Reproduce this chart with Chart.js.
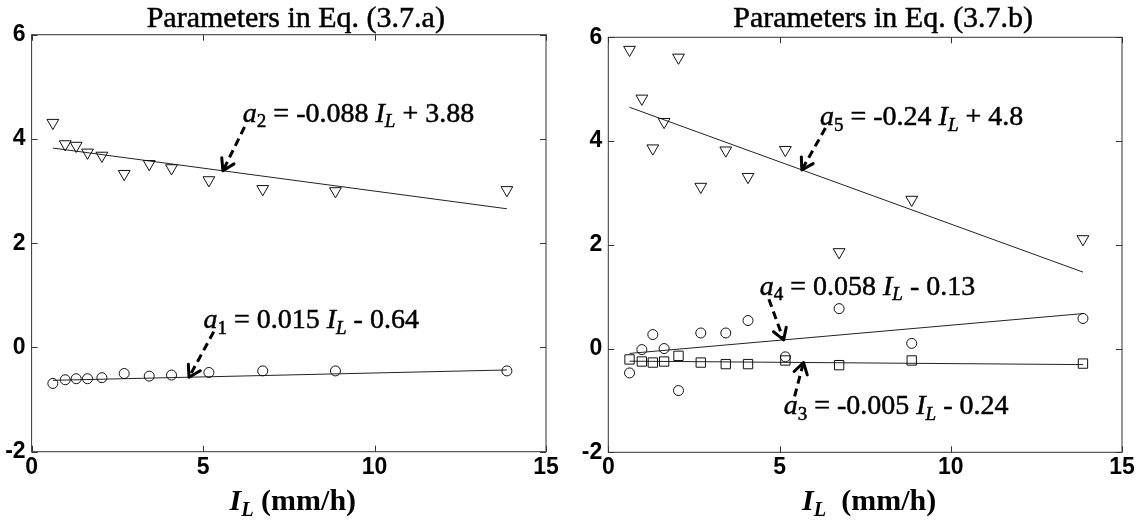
<!DOCTYPE html>
<html lang="en">
<head>
<meta charset="UTF-8" />
<title>Parameters vs rainfall intensity</title>
<script src="https://cdn.jsdelivr.net/npm/chart.js"></script>
<style>
  body { margin: 0; background: #fff; }
  .panel { position: absolute; top: 0; height: 523px; }
  #panelA { left: 0; width: 575px; }
  #panelB { left: 575px; width: 566px; }
</style>
</head>
<body>
<div class="panel" id="panelA"><canvas id="chartA"></canvas></div>
<div class="panel" id="panelB"><canvas id="chartB"></canvas></div>
<script>
// rainfall intensity I_L (mm/h) of each event
const intensity = [0.62, 0.98, 1.30, 1.63, 2.05, 2.70, 3.43, 4.08, 5.17, 6.74, 8.86, 13.86];

// fitted parameters per event
const a1 = [-0.69, -0.62, -0.60, -0.60, -0.58, -0.50, -0.55, -0.53, -0.48, -0.45, -0.45, -0.45];
const a2 = [4.31, 3.90, 3.87, 3.74, 3.68, 3.33, 3.52, 3.44, 3.21, 3.04, 3.00, 3.02];
const a3 = [-0.21, -0.25, -0.27, -0.25, -0.14, -0.27, -0.30, -0.30, -0.23, -0.32, -0.23, -0.29];
const a4 = [-0.47, -0.02, 0.27, 0.00, -0.81, 0.30, 0.30, 0.54, -0.16, 0.77, 0.10, 0.58];
const a5 = [5.76, 4.82, 3.86, 4.37, 5.61, 3.12, 3.82, 3.31, 3.83, 1.86, 2.87, 2.11];

// regression lines: [slope, intercept]
const fit1 = [0.015, -0.64];
const fit2 = [-0.088, 3.88];
const fit3 = [-0.005, -0.24];
const fit4 = [0.058, -0.13];
const fit5 = [-0.24, 4.8];

const xTicks = [0, 5, 10, 15];
const yTicks = [-2, 0, 2, 4, 6];

const SERIF = '"Liberation Serif", "Times New Roman", serif';
const SANS = '"Liberation Sans", Arial, sans-serif';

function points(ys) {
  return intensity.map((x, i) => ({ x: x, y: ys[i] }));
}

function fitLine(f) {
  const x0 = intensity[0], x1 = intensity[intensity.length - 1];
  return {
    type: 'line',
    data: [{ x: x0, y: f[0] * x0 + f[1] }, { x: x1, y: f[0] * x1 + f[1] }],
    borderColor: '#222',
    borderWidth: 1,
    pointRadius: 0,
    showLine: true,
    fill: false
  };
}

function markers(ys, style, radius, rotation) {
  return {
    data: points(ys),
    showLine: false,
    pointStyle: style,
    pointRadius: radius,
    pointRotation: rotation || 0,
    borderColor: '#111',
    backgroundColor: 'rgba(0,0,0,0)',
    pointBorderWidth: 1
  };
}

// text made of pieces, e.g. italic symbols and subscripts
function richWidth(ctx, parts, size) {
  let w = 0;
  parts.forEach(p => {
    const s = p.sub ? size * 0.68 : size;
    ctx.font = (p.it ? 'italic ' : '') + (p.b ? 'bold ' : '') + s + 'px ' + SERIF;
    w += ctx.measureText(p.t).width;
  });
  return w;
}

function drawRich(ctx, parts, x, y, size) {
  let cx = x;
  ctx.textBaseline = 'alphabetic';
  ctx.textAlign = 'left';
  ctx.lineWidth = 0.5;
  ctx.strokeStyle = '#000';
  parts.forEach(p => {
    const s = p.sub ? size * 0.68 : size;
    const dy = p.sub ? size * 0.2 : 0;
    ctx.font = (p.it ? 'italic ' : '') + (p.b ? 'bold ' : '') + s + 'px ' + SERIF;
    ctx.fillText(p.t, cx, y + dy);
    if (!p.b) ctx.strokeText(p.t, cx, y + dy);
    cx += ctx.measureText(p.t).width;
  });
}

function eqParts(sym, slope, rest) {
  return [
    { t: 'a', it: true }, { t: sym, sub: true },
    { t: ' = ' + slope + ' ' },
    { t: 'I', it: true }, { t: 'L', it: true, sub: true },
    { t: rest }
  ];
}

function arrow(ctx, x0, y0, x1, y1) {
  const ang = Math.atan2(y1 - y0, x1 - x0);
  ctx.save();
  ctx.strokeStyle = '#000';
  ctx.lineWidth = 3;
  ctx.lineCap = 'butt';
  ctx.setLineDash([8, 5]);
  ctx.beginPath();
  ctx.moveTo(x0, y0);
  ctx.lineTo(x1 - Math.cos(ang) * 3, y1 - Math.sin(ang) * 3);
  ctx.stroke();
  ctx.setLineDash([]);
  ctx.lineCap = 'round';
  ctx.lineJoin = 'round';
  ctx.beginPath();
  const len = 13;
  ctx.moveTo(x1 - len * Math.cos(ang - 0.55), y1 - len * Math.sin(ang - 0.55));
  ctx.lineTo(x1, y1);
  ctx.lineTo(x1 - len * Math.cos(ang + 0.55), y1 - len * Math.sin(ang + 0.55));
  ctx.stroke();
  ctx.restore();
}

// box around the plot, inward ticks on every side, titles and equation notes
const decorations = {
  id: 'decorations',
  afterDraw(chart, args, opts) {
    const ctx = chart.ctx;
    const area = chart.chartArea;
    const xs = chart.scales.x, ys = chart.scales.y;
    ctx.save();
    ctx.strokeStyle = '#333';
    ctx.lineWidth = 1;
    ctx.strokeRect(area.left, area.top, area.right - area.left, area.bottom - area.top);
    ctx.beginPath();
    xTicks.forEach(v => {
      const px = Math.round(xs.getPixelForValue(v)) + 0.5;
      ctx.moveTo(px, area.bottom); ctx.lineTo(px, area.bottom - 6);
      ctx.moveTo(px, area.top); ctx.lineTo(px, area.top + 6);
    });
    yTicks.forEach(v => {
      const py = Math.round(ys.getPixelForValue(v)) + 0.5;
      ctx.moveTo(area.left, py); ctx.lineTo(area.left + 6, py);
      ctx.moveTo(area.right, py); ctx.lineTo(area.right - 6, py);
    });
    ctx.stroke();

    ctx.fillStyle = '#000';
    const cx = (area.left + area.right) / 2;
    ctx.font = '30px ' + SERIF;
    ctx.textAlign = 'center';
    ctx.textBaseline = 'alphabetic';
    ctx.lineWidth = 0.5;
    ctx.strokeStyle = '#000';
    ctx.fillText(opts.title, cx + opts.titleShift, 27);
    ctx.strokeText(opts.title, cx + opts.titleShift, 27);

    const xt = [
      { t: 'I', it: true, b: true }, { t: 'L', it: true, b: true, sub: true },
      { t: opts.unitGap + '(mm/h)', b: true }
    ];
    const w = richWidth(ctx, xt, 30);
    drawRich(ctx, xt, cx + 4 - w / 2, 510, 30);

    opts.notes.forEach(n => {
      drawRich(ctx, n.parts, xs.getPixelForValue(n.at[0]), ys.getPixelForValue(n.at[1]), 28);
      const tipY = n.fit[0] * n.tipX + n.fit[1];
      arrow(ctx,
        xs.getPixelForValue(n.from[0]), ys.getPixelForValue(n.from[1]),
        xs.getPixelForValue(n.tipX), ys.getPixelForValue(tipY));
    });
    ctx.restore();
  }
};

function makeChart(id, datasets, pad, yWidth, xHeight, deco) {
  return new Chart(document.getElementById(id), {
    type: 'scatter',
    data: { datasets: datasets },
    options: {
      responsive: true,
      maintainAspectRatio: false,
      animation: false,
      layout: { padding: pad },
      plugins: { legend: { display: false }, tooltip: { enabled: false }, decorations: deco },
      scales: {
        x: {
          type: 'linear', min: 0, max: 15,
          grid: { display: false, drawTicks: false },
          border: { display: false },
          afterBuildTicks: s => { s.ticks = xTicks.map(v => ({ value: v })); },
          afterFit: s => { s.height = xHeight; },
          ticks: { autoSkip: false, maxRotation: 0, padding: 2, color: '#000',
                   font: { family: SANS, size: 23, weight: 'bold' } }
        },
        y: {
          type: 'linear', min: -2, max: 6,
          grid: { display: false, drawTicks: false },
          border: { display: false },
          afterBuildTicks: s => { s.ticks = yTicks.map(v => ({ value: v })); },
          afterFit: s => { s.width = yWidth; },
          ticks: { autoSkip: false, padding: 6, color: '#000',
                   font: { family: SANS, size: 23, weight: 'bold' } }
        }
      }
    },
    plugins: [decorations]
  });
}

makeChart('chartA', [
  markers(a2, 'triangle', 6.8, 180),
  markers(a1, 'circle', 5),
  fitLine(fit2),
  fitLine(fit1)
], { top: 34.7, right: 29, bottom: 0, left: 0 }, 31.6, 71.3, {
  title: 'Parameters in Eq. (3.7.a)',
  titleShift: 7,
  unitGap: ' ',
  notes: [
    { parts: eqParts('2', '-0.088', ' + 3.88'), at: [6.16, 4.33], from: [6.21, 4.23], tipX: 5.58, fit: fit2 },
    { parts: eqParts('1', '0.015', ' - 0.64'), at: [5.01, 0.37], from: [5.31, 0.30], tipX: 4.59, fit: fit1 }
  ]
});

makeChart('chartB', [
  markers(a5, 'triangle', 6.8, 180),
  markers(a4, 'circle', 5),
  markers(a3, 'rect', 6.6),
  fitLine(fit5),
  fitLine(fit4),
  fitLine(fit3)
], { top: 37.3, right: 19, bottom: 0, left: 0 }, 33.3, 70.7, {
  title: 'Parameters in Eq. (3.7.b)',
  titleShift: 18,
  unitGap: '  ',
  notes: [
    { parts: eqParts('5', '-0.24', ' + 4.8'), at: [6.18, 4.31], from: [6.34, 4.25], tipX: 5.65, fit: fit5 },
    { parts: eqParts('4', '0.058', ' - 0.13'), at: [4.42, 1.04], from: [4.69, 0.95], tipX: 5.12, fit: fit4 },
    { parts: eqParts('3', '-0.005', ' - 0.24'), at: [5.12, -1.27], from: [5.44, -0.92], tipX: 5.70, fit: fit3 }
  ]
});
</script>
</body>
</html>
